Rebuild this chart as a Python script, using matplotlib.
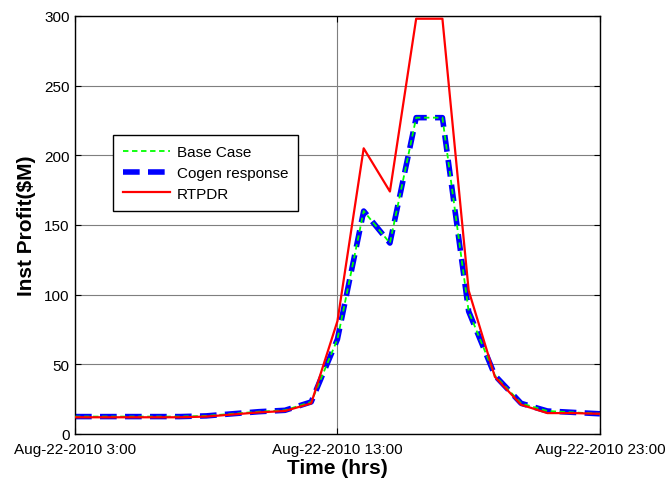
import matplotlib
matplotlib.use("Agg")
import matplotlib.pyplot as plt
import matplotlib.dates as mdates
import matplotlib.ticker as mticker
from datetime import datetime

# hourly samples, Aug-22-2010 3:00 .. 23:00
hours = list(range(3, 24))
base_case = [12.5, 12.5, 12.5, 12.5, 12.5, 13, 14.5, 16, 17, 23,
             68, 160, 137, 227, 227, 88, 42, 22, 16.5, 15.5, 14.5]
cogen = [12.5, 12.5, 12.5, 12.5, 12.5, 13, 14.5, 16, 17, 23,
         68, 160, 137, 227, 227, 88, 42, 22, 16.5, 15.5, 14.5]
rtpdr = [12, 12, 12, 12, 12, 12.5, 14, 15.5, 16.5, 22,
         81, 205, 174, 298, 298, 103, 41, 21, 15, 15, 14.5]

times = [datetime(2010, 8, 22, h) for h in hours]

plt.rcParams['font.family'] = ['Liberation Sans', 'DejaVu Sans']

fig = plt.figure(figsize=(6.68, 4.85), dpi=100)
ax = fig.add_axes([0.1123, 0.1031, 0.7857, 0.862])

ax.plot(times, base_case, color="#00ff00", linestyle=(0, (3, 2)), linewidth=1.3, label="Base Case", zorder=3)
ax.plot(times, cogen, color="#0000ff", linestyle=(0, (3, 1.5)), linewidth=4, label="Cogen response", zorder=2)
ax.plot(times, rtpdr, color="#ff0000", linestyle="-", linewidth=1.6, label="RTPDR", zorder=4)

ax.set_xlim(times[0], times[-1])
ax.set_ylim(0, 300)
ax.set_yticks(range(0, 301, 50))
ax.set_xticks([times[0], times[10], times[20]])


def fmt_date(x, pos):
    d = mdates.num2date(x)
    return f"{d:%b-%d-%Y} {d.hour}:00"


ax.xaxis.set_major_formatter(mticker.FuncFormatter(fmt_date))
ax.tick_params(direction="in", top=True, right=True, length=4, labelsize=11)
ax.tick_params(axis="x", pad=6)
ax.tick_params(axis="y", pad=4)
ax.grid(True, color="#7f7f7f", linewidth=0.8)
ax.set_axisbelow(True)
for s in ax.spines.values():
    s.set_linewidth(1)

ax.set_xlabel("Time (hrs)", fontsize=15, fontweight="bold", labelpad=1)
ax.set_ylabel("Inst Profit($M)", fontsize=15, fontweight="bold", labelpad=6)

leg = ax.legend(loc="upper left", bbox_to_anchor=(0.072, 0.715), fontsize=11,
                fancybox=False, framealpha=1, edgecolor="black", handlelength=3.1,
                handletextpad=0.45, borderpad=0.65, labelspacing=0.45, borderaxespad=0)
leg.get_frame().set_linewidth(1)

fig.savefig("out.png", dpi=100)
